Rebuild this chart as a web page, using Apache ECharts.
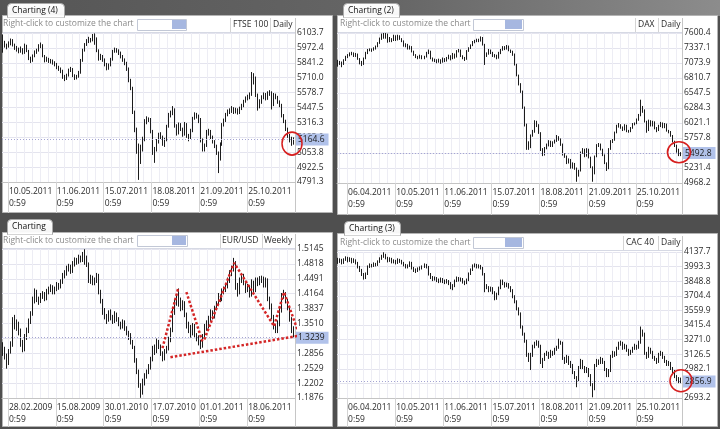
<!DOCTYPE html>
<html><head><meta charset="utf-8">
<script src="https://cdn.jsdelivr.net/npm/echarts@6.0.0/dist/echarts.min.js"></script>
<style>html,body{margin:0;padding:0;background:#4f4f4f;}#c{width:720px;height:429px;}</style>
</head><body><div id="c"></div><script>
// ---------- DATA: [open, close, low, high] per bar ----------
const ftseBars = [
[6060,6020,5930,6090],[6020,6000,5975,6035],[6000,5985,5960,6010],[5985,6010,5975,6030],[6010,6040,5995,6055],[6040,6000,5985,6050],[6000,5975,5955,6010],[5975,5960,5940,5990],[5960,5945,5925,5975],[5945,5960,5930,5985],
[5960,5930,5915,5970],[5930,5990,5920,6010],[5990,5950,5935,6000],[5950,5880,5865,5955],[5880,5860,5840,5895],[5860,5900,5850,5915],[5900,5935,5890,5950],[5935,5950,5920,5965],[5950,5990,5940,6005],[5990,6000,5970,6020],
[6000,5900,5890,6005],[5900,5860,5845,5910],[5860,5875,5850,5895],[5875,5855,5840,5885],[5855,5860,5835,5875],[5860,5845,5825,5870],[5845,5830,5810,5855],[5830,5800,5785,5840],[5800,5790,5770,5815],[5790,5770,5750,5800],
[5770,5720,5700,5780],[5720,5700,5680,5735],[5700,5730,5690,5745],[5730,5775,5720,5790],[5775,5790,5760,5805],[5790,5730,5715,5795],[5730,5710,5690,5740],[5710,5720,5695,5735],[5720,5750,5710,5770],[5750,5860,5745,5875],
[5860,5950,5850,5965],[5950,6000,5940,6015],[6000,6030,5990,6050],[6030,6050,6015,6070],[6050,6040,6020,6060],[6040,6080,6030,6095],[6080,6060,6000,6100],[6060,5950,5935,6065],[5950,5880,5860,5960],[5880,5900,5865,5920],
[5900,5870,5850,5910],[5870,5830,5810,5880],[5830,5790,5775,5840],[5790,5820,5780,5835],[5820,5870,5810,5885],[5870,5940,5860,5955],[5940,5960,5930,5975],[5960,5950,5930,5970],[5950,5930,5910,5960],[5930,5900,5880,5940],
[5900,5870,5850,5910],[5870,5840,5820,5880],[5840,5790,5770,5850],[5790,5690,5670,5800],[5690,5620,5600,5700],[5620,5400,5390,5630],[5400,5250,5230,5420],[5250,5060,5040,5270],[5060,5000,4810,5130],[5000,5100,4950,5120],
[5100,5170,5060,5190],[5170,5330,5150,5345],[5330,5350,5300,5370],[5350,5345,5320,5360],[5345,5240,5220,5355],[5240,5050,5030,5250],[5050,5080,4960,5100],[5080,5150,5060,5170],[5150,5210,5130,5225],[5210,5190,5170,5230],
[5190,5130,5110,5200],[5130,5160,5100,5180],[5160,5280,5150,5295],[5280,5380,5270,5400],[5380,5400,5360,5420],[5400,5430,5380,5460],[5430,5290,5270,5440],[5290,5220,5200,5300],[5220,5300,5210,5315],[5300,5260,5240,5310],
[5260,5210,5190,5270],[5210,5300,5200,5320],[5300,5200,5180,5310],[5200,5180,5150,5215],[5180,5240,5170,5260],[5240,5350,5230,5365],[5350,5390,5340,5405],[5390,5370,5350,5400],[5370,5350,5310,5385],[5350,5160,5140,5355],
[5160,5080,5060,5175],[5080,5110,5060,5130],[5110,5230,5100,5250],[5230,5240,5200,5260],[5240,5190,5170,5250],[5190,5150,5130,5200],[5150,5110,5090,5160],[5110,5050,5030,5120],[5050,4990,4870,5060],[4990,5120,4980,5140],
[5120,5290,5110,5310],[5290,5330,5280,5350],[5330,5380,5320,5400],[5380,5410,5370,5430],[5410,5420,5390,5440],[5420,5440,5400,5460],[5440,5410,5390,5450],[5410,5430,5395,5445],[5430,5400,5385,5440],[5400,5440,5390,5455],
[5440,5460,5425,5480],[5460,5500,5450,5515],[5500,5530,5490,5545],[5530,5540,5510,5560],[5540,5560,5520,5580],[5560,5730,5550,5760],[5730,5710,5650,5750],[5710,5560,5540,5720],[5560,5460,5420,5570],[5460,5500,5440,5520],
[5500,5540,5480,5555],[5540,5560,5520,5580],[5560,5530,5510,5575],[5530,5570,5515,5590],[5570,5580,5550,5600],[5580,5470,5430,5590],[5470,5560,5460,5575],[5560,5540,5520,5570],[5540,5500,5480,5550],[5500,5470,5450,5510],
[5470,5380,5360,5480],[5380,5330,5310,5390],[5330,5260,5240,5340],[5260,5200,5180,5270],[5200,5160,5140,5215],[5160,5170,5110,5190],[5170,5164.6,5120,5185]
];
const daxBars = [
[7100,7060,7010,7130],[7060,7090,7040,7110],[7090,7050,7000,7100],[7050,7120,7040,7140],[7120,7180,7110,7200],[7180,7210,7160,7230],[7210,7230,7190,7260],[7230,7250,7210,7270],[7250,7200,7180,7260],[7200,7230,7180,7250],
[7230,7150,7130,7240],[7150,7100,7050,7160],[7100,7050,7020,7110],[7050,7150,7040,7170],[7150,7250,7140,7270],[7250,7300,7230,7320],[7300,7310,7280,7330],[7310,7300,7270,7330],[7300,7330,7290,7350],[7330,7360,7310,7380],
[7360,7420,7350,7440],[7420,7500,7410,7520],[7500,7560,7480,7590],[7560,7520,7500,7600],[7520,7580,7500,7600],[7580,7450,7430,7590],[7450,7500,7440,7530],[7500,7470,7440,7510],[7470,7540,7460,7570],[7540,7480,7460,7560],
[7480,7550,7470,7570],[7550,7500,7480,7560],[7500,7460,7440,7510],[7460,7380,7360,7470],[7380,7400,7350,7420],[7400,7330,7310,7410],[7330,7360,7310,7380],[7360,7280,7260,7370],[7280,7220,7200,7290],[7220,7180,7160,7230],
[7180,7170,7140,7200],[7170,7200,7150,7220],[7200,7160,7140,7210],[7160,7180,7140,7200],[7180,7250,7170,7270],[7250,7280,7230,7310],[7280,7160,7140,7290],[7160,7120,7100,7170],[7120,7130,7090,7150],[7130,7100,7070,7140],
[7100,7130,7080,7150],[7130,7090,7060,7140],[7090,7150,7080,7170],[7150,7120,7090,7160],[7120,7160,7100,7180],[7160,7200,7140,7220],[7200,7150,7120,7210],[7150,7230,7140,7250],[7230,7180,7150,7240],[7180,7280,7170,7300],
[7280,7300,7260,7320],[7300,7200,7180,7310],[7200,7160,7140,7210],[7160,7140,7110,7180],[7140,7280,7130,7300],[7280,7330,7270,7350],[7330,7380,7320,7400],[7380,7440,7370,7460],[7440,7460,7420,7480],[7460,7480,7440,7500],
[7480,7470,7440,7500],[7470,7520,7450,7540],[7520,7400,7380,7530],[7400,7200,7040,7410],[7200,7240,7180,7260],[7240,7300,7220,7320],[7300,7260,7230,7310],[7260,7200,7180,7270],[7200,7210,7170,7230],[7210,7160,7140,7220],
[7160,7250,7150,7270],[7250,7300,7230,7320],[7300,7350,7290,7370],[7350,7330,7300,7370],[7330,7370,7310,7390],[7370,7300,7280,7380],[7300,7280,7250,7310],[7280,7230,7200,7290],[7230,7050,7030,7240],[7050,6860,6840,7060],
[6860,6700,6680,6870],[6700,6580,6550,6720],[6580,6300,6270,6590],[6300,6000,5960,6310],[6000,5660,5550,6010],[5660,5600,5550,5700],[5600,5800,5580,5820],[5800,5870,5780,5900],[5870,6040,5850,6070],[6040,5990,5950,6060],
[5990,5850,5830,6000],[5850,5560,5530,5860],[5560,5470,5440,5580],[5470,5580,5450,5600],[5580,5640,5560,5660],[5640,5690,5610,5720],[5690,5620,5600,5710],[5620,5680,5600,5700],[5680,5700,5660,5730],[5700,5780,5690,5810],
[5780,5740,5710,5790],[5740,5650,5620,5750],[5650,5470,5450,5660],[5470,5440,5410,5490],[5440,5330,5300,5450],[5330,5380,5310,5400],[5380,5240,5220,5390],[5240,5310,5220,5330],[5310,5230,5200,5320],[5230,5100,4990,5240],
[5100,5180,5080,5200],[5180,5500,5170,5520],[5500,5560,5480,5580],[5560,5440,5420,5570],[5440,5560,5430,5580],[5560,5420,5400,5570],[5420,5250,5230,5430],[5250,5130,4990,5260],[5130,5430,5120,5450],[5430,5620,5420,5650],
[5620,5650,5600,5670],[5650,5560,5540,5660],[5560,5460,5440,5570],[5460,5320,5300,5470],[5320,5220,5180,5330],[5220,5560,5210,5580],[5560,5690,5550,5720],[5690,5720,5670,5740],[5720,5850,5710,5870],[5850,5960,5840,5990],
[5960,5990,5940,6020],[5990,5950,5920,6000],[5950,5900,5880,5960],[5900,5980,5890,6000],[5980,5880,5860,5990],[5880,5870,5850,5900],[5870,5930,5860,5950],[5930,6000,5920,6020],[6000,6010,5980,6030],[6010,6080,6000,6100],
[6080,6150,6060,6180],[6150,6300,6140,6430],[6300,6250,6200,6320],[6250,6050,6030,6260],[6050,5890,5850,6060],[5890,6060,5880,6080],[6060,5980,5960,6070],[5980,6040,5960,6060],[6040,5930,5910,6050],[5930,5890,5860,5950],
[5890,5970,5880,5990],[5970,6020,5950,6040],[6020,5950,5930,6030],[5950,6000,5930,6020],[6000,5890,5870,6010],[5890,5870,5840,5900],[5870,5800,5780,5880],[5800,5700,5680,5810],[5700,5620,5600,5710],[5620,5560,5500,5640],
[5560,5470,5440,5570],[5470,5492.8,5440,5510]
];
const eurBars = [
[1.3050,1.2950,1.2800,1.3100],[1.2950,1.2800,1.2720,1.3000],[1.2800,1.2650,1.2520,1.2850],[1.2650,1.2900,1.2600,1.2950],[1.2900,1.3050,1.2850,1.3120],[1.3050,1.3550,1.3000,1.3650],[1.3550,1.3450,1.3380,1.3700],[1.3450,1.3500,1.3350,1.3600],[1.3500,1.3350,1.3250,1.3550],[1.3350,1.3100,1.3000,1.3400],
[1.3100,1.2950,1.2880,1.3150],[1.2950,1.3200,1.2900,1.3280],[1.3200,1.3350,1.3150,1.3420],[1.3350,1.3550,1.3300,1.3620],[1.3550,1.3700,1.3500,1.3780],[1.3700,1.4000,1.3680,1.4100],[1.4000,1.4200,1.3950,1.4280],[1.4200,1.4050,1.3980,1.4250],[1.4050,1.4000,1.3920,1.4100],[1.4000,1.4100,1.3960,1.4180],
[1.4100,1.4150,1.4050,1.4220],[1.4150,1.4050,1.4000,1.4200],[1.4050,1.4200,1.4020,1.4270],[1.4200,1.4250,1.4150,1.4320],[1.4250,1.4300,1.4200,1.4370],[1.4300,1.4200,1.4150,1.4350],[1.4200,1.4250,1.4150,1.4320],[1.4250,1.4350,1.4220,1.4420],[1.4350,1.4300,1.4250,1.4400],[1.4300,1.4400,1.4280,1.4480],
[1.4400,1.4550,1.4380,1.4620],[1.4550,1.4600,1.4500,1.4680],[1.4600,1.4700,1.4560,1.4780],[1.4700,1.4750,1.4650,1.4820],[1.4750,1.4650,1.4600,1.4800],[1.4650,1.4800,1.4620,1.4880],[1.4800,1.4900,1.4760,1.4960],[1.4900,1.4850,1.4800,1.4950],[1.4850,1.4950,1.4820,1.5020],[1.4950,1.4900,1.4850,1.5000],
[1.4900,1.5000,1.4860,1.5080],[1.5000,1.4950,1.4800,1.5140],[1.4950,1.4800,1.4750,1.5000],[1.4800,1.4450,1.4400,1.4850],[1.4450,1.4500,1.4380,1.4580],[1.4500,1.4400,1.4350,1.4560],[1.4400,1.4450,1.4350,1.4520],[1.4450,1.4550,1.4400,1.4620],[1.4550,1.4200,1.4150,1.4600],[1.4200,1.4000,1.3950,1.4250],
[1.4000,1.3800,1.3700,1.4050],[1.3800,1.3650,1.3600,1.3850],[1.3650,1.3600,1.3500,1.3720],[1.3600,1.3750,1.3550,1.3800],[1.3750,1.3650,1.3580,1.3820],[1.3650,1.3550,1.3500,1.3700],[1.3550,1.3700,1.3520,1.3780],[1.3700,1.3600,1.3550,1.3750],[1.3600,1.3500,1.3450,1.3650],[1.3500,1.3450,1.3380,1.3550],
[1.3450,1.3550,1.3400,1.3600],[1.3550,1.3400,1.3350,1.3580],[1.3400,1.3300,1.3250,1.3450],[1.3300,1.3250,1.3150,1.3350],[1.3250,1.3100,1.3050,1.3300],[1.3100,1.3000,1.2950,1.3150],[1.3000,1.2700,1.2650,1.3020],[1.2700,1.2450,1.2400,1.2750],[1.2450,1.2150,1.2100,1.2500],[1.2150,1.2000,1.1880,1.2200],
[1.2000,1.2250,1.1950,1.2300],[1.2250,1.2350,1.2150,1.2420],[1.2350,1.2450,1.2300,1.2500],[1.2450,1.2550,1.2400,1.2620],[1.2550,1.2700,1.2500,1.2780],[1.2700,1.2950,1.2680,1.3020],[1.2950,1.2900,1.2820,1.3050],[1.2900,1.3100,1.2860,1.3180],[1.3100,1.3000,1.2950,1.3150],[1.3000,1.2850,1.2800,1.3050],
[1.2850,1.2750,1.2680,1.2900],[1.2750,1.2900,1.2700,1.2950],[1.2900,1.2950,1.2850,1.3020],[1.2950,1.3150,1.2920,1.3220],[1.3150,1.3350,1.3100,1.3420],[1.3350,1.3750,1.3320,1.3850],[1.3750,1.3950,1.3700,1.4050],[1.3950,1.4050,1.3900,1.4150],[1.4050,1.4000,1.3880,1.4280],[1.4000,1.3850,1.3780,1.4080],
[1.3850,1.3950,1.3800,1.4020],[1.3950,1.3700,1.3650,1.4000],[1.3700,1.3450,1.3400,1.3750],[1.3450,1.3400,1.3300,1.3550],[1.3400,1.3300,1.3200,1.3480],[1.3300,1.3450,1.3250,1.3520],[1.3450,1.3250,1.3200,1.3500],[1.3250,1.3200,1.3120,1.3300],[1.3200,1.3100,1.3030,1.3250],[1.3100,1.3000,1.2950,1.3150],
[1.3000,1.3200,1.2980,1.3280],[1.3200,1.3400,1.3180,1.3500],[1.3400,1.3450,1.3350,1.3580],[1.3450,1.3600,1.3400,1.3680],[1.3600,1.3750,1.3550,1.3820],[1.3750,1.3650,1.3600,1.3800],[1.3650,1.3850,1.3620,1.3900],[1.3850,1.3950,1.3800,1.4000],[1.3950,1.4100,1.3920,1.4180],[1.4100,1.4050,1.3980,1.4150],
[1.4050,1.4200,1.4000,1.4280],[1.4200,1.4250,1.4150,1.4320],[1.4250,1.4300,1.4200,1.4380],[1.4300,1.4450,1.4280,1.4520],[1.4450,1.4600,1.4400,1.4680],[1.4600,1.4700,1.4550,1.4780],[1.4700,1.4850,1.4650,1.4950],[1.4850,1.4300,1.4250,1.4880],[1.4300,1.4200,1.4100,1.4400],[1.4200,1.4450,1.4150,1.4520],
[1.4450,1.4550,1.4400,1.4620],[1.4550,1.4400,1.4350,1.4600],[1.4400,1.4250,1.4180,1.4450],[1.4250,1.4300,1.4200,1.4380],[1.4300,1.4150,1.4080,1.4350],[1.4150,1.4400,1.4100,1.4480],[1.4400,1.4250,1.4200,1.4450],[1.4250,1.4450,1.4200,1.4520],[1.4450,1.4400,1.4330,1.4520],[1.4400,1.4450,1.4350,1.4550],
[1.4450,1.4500,1.4400,1.4560],[1.4500,1.4350,1.4300,1.4540],[1.4350,1.4450,1.4300,1.4520],[1.4450,1.4050,1.4000,1.4500],[1.4050,1.3900,1.3820,1.4100],[1.3900,1.3650,1.3600,1.3950],[1.3650,1.3450,1.3380,1.3700],[1.3450,1.3350,1.3300,1.3500],[1.3350,1.3500,1.3300,1.3580],[1.3500,1.3800,1.3450,1.3850],
[1.3800,1.4100,1.3750,1.4180],[1.4100,1.4150,1.4050,1.4250],[1.4150,1.4000,1.3950,1.4200],[1.4000,1.3850,1.3800,1.4050],[1.3850,1.3600,1.3550,1.3900],[1.3600,1.3400,1.3300,1.3650],[1.3400,1.3239,1.3200,1.3450]
];
const cacBars = [
[4070,4040,4020,4080],[4040,4060,4030,4075],[4060,4030,4015,4070],[4030,4060,4020,4075],[4060,4080,4050,4095],[4080,4050,4035,4090],[4050,4070,4040,4085],[4070,4040,4025,4080],[4040,4060,4030,4075],[4060,4030,4015,4065],
[4030,3990,3975,4040],[3990,3960,3940,4000],[3960,3920,3900,3970],[3920,3880,3865,3930],[3880,3920,3870,3935],[3920,3990,3910,4005],[3990,4010,3980,4025],[4010,4000,3985,4020],[4000,4020,3990,4035],[4020,4010,3995,4030],
[4010,4040,4000,4055],[4040,4070,4030,4085],[4070,4090,4060,4110],[4090,4110,4080,4135],[4110,4080,4065,4120],[4080,4050,4035,4090],[4050,4070,4040,4085],[4070,4040,4025,4080],[4040,4050,4025,4065],[4050,4030,4015,4060],
[4030,4060,4020,4075],[4060,4050,4030,4070],[4050,4030,4015,4060],[4030,4010,3995,4040],[4010,3990,3975,4020],[3990,4000,3975,4015],[4000,4030,3990,4045],[4030,3980,3965,4040],[3980,3960,3940,3990],[3960,3950,3930,3975],
[3950,3970,3940,3985],[3970,3980,3955,3995],[3980,3990,3965,4005],[3990,4010,3980,4025],[4010,3990,3975,4020],[3990,3920,3905,4000],[3920,3890,3870,3930],[3890,3870,3850,3900],[3870,3880,3855,3895],[3880,3860,3840,3890],
[3860,3850,3830,3875],[3850,3870,3835,3885],[3870,3850,3830,3880],[3850,3840,3820,3865],[3840,3850,3825,3870],[3850,3830,3810,3860],[3830,3790,3770,3840],[3790,3800,3760,3820],[3800,3850,3790,3865],[3850,3880,3840,3895],
[3880,3860,3845,3890],[3860,3870,3845,3885],[3870,3840,3825,3880],[3840,3830,3810,3855],[3830,3860,3820,3875],[3860,3920,3850,3935],[3920,3960,3910,3975],[3960,4000,3950,4015],[4000,4010,3985,4025],[4010,3990,3975,4020],
[3990,4000,3975,4015],[4000,3980,3965,4010],[3980,3920,3905,3990],[3920,3800,3740,3930],[3800,3790,3770,3820],[3790,3760,3740,3800],[3760,3780,3745,3795],[3780,3740,3720,3790],[3740,3680,3660,3750],[3680,3720,3665,3735],
[3720,3780,3710,3795],[3780,3850,3770,3865],[3850,3830,3810,3865],[3830,3800,3785,3840],[3800,3820,3790,3835],[3820,3790,3775,3830],[3790,3760,3740,3800],[3760,3700,3680,3770],[3700,3650,3630,3710],[3650,3580,3560,3660],
[3580,3530,3510,3590],[3530,3400,3380,3540],[3400,3330,3310,3410],[3330,3260,3240,3340],[3260,3130,3100,3270],[3130,3080,3050,3140],[3080,3120,2970,3140],[3120,3200,3100,3220],[3200,3230,3185,3250],[3230,3250,3210,3265],
[3250,3210,3190,3260],[3210,3050,3030,3220],[3050,3070,2990,3090],[3070,3120,3060,3140],[3120,3140,3110,3160],[3140,3100,3080,3150],[3100,3150,3090,3170],[3150,3130,3110,3160],[3130,3170,3120,3190],[3170,3190,3160,3210],
[3190,3250,3180,3280],[3250,3240,3220,3260],[3240,3090,3070,3250],[3090,3050,3030,3100],[3050,3100,3040,3120],[3100,3040,3020,3110],[3040,3020,2990,3060],[3020,2950,2930,3030],[2950,2900,2880,2960],[2900,2870,2800,2910],
[2870,2990,2860,3010],[2990,3060,2980,3080],[3060,3000,2980,3070],[3000,2960,2940,3010],[2960,2980,2940,3000],[2980,2920,2900,2990],[2920,2830,2810,2930],[2830,2780,2700,2840],[2780,3010,2770,3030],[3010,3060,3000,3080],
[3060,3040,3020,3075],[3040,3080,3030,3100],[3080,3050,3030,3090],[3050,2980,2960,3060],[2980,2920,2900,2990],[2920,2960,2900,2980],[2960,3100,2950,3120],[3100,3140,3090,3160],[3140,3120,3100,3155],[3120,3180,3110,3200],
[3180,3230,3170,3250],[3230,3240,3210,3260],[3240,3190,3170,3250],[3190,3210,3175,3230],[3210,3170,3150,3220],[3170,3130,3110,3180],[3130,3150,3120,3170],[3150,3180,3140,3200],[3180,3210,3170,3230],[3210,3190,3170,3220],
[3190,3240,3180,3260],[3240,3360,3230,3400],[3360,3330,3300,3370],[3330,3140,3120,3340],[3140,3100,3080,3150],[3100,3180,3090,3200],[3180,3150,3130,3190],[3150,3100,3080,3160],[3100,3080,3060,3110],[3080,3050,3030,3090],
[3050,3120,3040,3140],[3120,3140,3110,3160],[3140,3100,3080,3150],[3100,3060,3040,3110],[3060,3030,3010,3070],[3030,3040,3010,3060],[3040,2990,2970,3050],[2990,2960,2940,3000],[2960,2910,2890,2970],[2910,2870,2850,2920],
[2870,2880,2840,2900],[2880,2856.9,2840,2895]
];

// x-axis date labels and the bar each one sits on
const ftseDates = ['10.05.2011','11.06.2011','15.07.2011','18.08.2011','21.09.2011','25.10.2011'];
const ftseDateBars = [3,27,51,75,99,123];
const daxDates = ['06.04.2011','10.05.2011','11.06.2011','15.07.2011','18.08.2011','21.09.2011','25.10.2011'];
const daxDateBars = [5,29,53,77,101,125,149];
const eurDates = ['28.02.2009','15.08.2009','30.01.2010','17.07.2010','01.01.2011','18.06.2011'];
const eurDateBars = [3,27,51,75,99,123];
const cacDates = ['06.04.2011','10.05.2011','11.06.2011','15.07.2011','18.08.2011','21.09.2011','25.10.2011'];
const cacDateBars = [5,29,53,77,101,125,149];
const timeOfDay = '0:59';

// y-axis tick labels
const ftseTicks = [4791.3,4922.5,5053.8,5185.0,5316.3,5447.5,5578.7,5710.0,5841.2,5972.4,6103.7];
const daxTicks = [4968.2,5231.4,5494.6,5757.8,6021.1,6284.3,6547.5,6810.7,7073.9,7337.1,7600.4];
const eurTicks = [1.1876,1.2202,1.2529,1.2856,1.3183,1.3510,1.3837,1.4164,1.4491,1.4818,1.5145];
const cacTicks = [2693.2,2837.6,2982.1,3126.5,3271.0,3415.4,3559.9,3704.4,3848.8,3993.3,4137.7];

// texts
const tabTitles = ['Charting (4)','Charting (2)','Charting','Charting (3)'];
const symbols = ['FTSE 100','DAX','EUR/USD','CAC 40'];
const periods = ['Daily','Daily','Weekly','Daily'];
const hintText = 'Right-click to customize the chart';

// hand-drawn annotations (bar index, price)
const ftseMarker = [145, 5130];
const daxMarker = [170, 5508];
const cacMarker = [171, 2864];
const eurPatternA = [[80,1.297],[88,1.430]];
const eurPatternB = [[92,1.420],[100,1.312]];
const eurPatternC = [[101,1.316],[116,1.484],[136,1.345],[141,1.420],[148,1.334]];
const eurNeckline = [[84,1.277],[162,1.334]];

// ---------- LAYOUT ----------
const FONT = 'Open Sans';
const FS = 8.5;
const layout = [
 {grid:{left:2,top:33,width:293,height:149}, tickLen:31, box:[2,15,331,198], tab:[7,3,57,13], hint:[3,24], input:[137,19,49,11], blue:[172,20,14,9], seps:[230.5,270.5], sepY:[18,32], symX:233, perX:273, tY:24.5, toolY:32.5, axisX:295.5, axisY:[18,213]},
 {grid:{left:337,top:33,width:345,height:150}, tickLen:32, box:[337,15,381,200], tab:[343,3,56,13], hint:[340,24], input:[473,19,50,11], blue:[505,20,17,9], seps:[635.5,658.5], sepY:[18,32], symX:638, perX:661, tY:24.5, toolY:32.5, axisX:682.5, axisY:[18,215]},
 {grid:{left:2,top:249,width:293,height:149}, tickLen:29, box:[2,232,331,195], tab:[7,219,45,14], hint:[3,241], input:[137,235,50,11], blue:[172,236,14,9], seps:[220.5,262.5], sepY:[234,248], symX:222, perX:264, tY:241, toolY:248.5, axisX:295.5, axisY:[234,427]},
 {grid:{left:337,top:252,width:345,height:146}, tickLen:29, box:[337,233,381,194], tab:[344,221,56,13], hint:[340,243], input:[473,237,50,11], blue:[505,238,17,9], seps:[623.5,658.5], sepY:[236,250], symX:626, perX:661, tY:243, toolY:250.5, axisX:682.5, axisY:[236,427]}
];

const panels = [
 {bars:ftseBars, dates:ftseDates, dateBars:ftseDateBars, ticks:ftseTicks, dec:1, marker:ftseMarker, markerSize:[20,23]},
 {bars:daxBars, dates:daxDates, dateBars:daxDateBars, ticks:daxTicks, dec:1, marker:daxMarker, markerSize:[23,21]},
 {bars:eurBars, dates:eurDates, dateBars:eurDateBars, ticks:eurTicks, dec:4, marker:null},
 {bars:cacBars, dates:cacDates, dateBars:cacDateBars, ticks:cacTicks, dec:1, marker:cacMarker, markerSize:[22,22]}
];

const grids = [], xAxes = [], yAxes = [], series = [], els = [];
const txt = (x, y, text, fill, z) => ({type:'text', z: z || 10, style:{x, y, text, fill, font: FS + 'px "' + FONT + '"', align:'left', verticalAlign:'middle', textAlign:'left', textVerticalAlign:'middle'}});
const ln = (x1, y1, x2, y2, stroke, z) => ({type:'line', z: z || 1, shape:{x1, y1, x2, y2}, style:{stroke, lineWidth:1}});

// window frame
els.push({type:'rect', z:-20, shape:{x:0,y:0,width:720,height:16}, style:{fill:{type:'linear',x:0,y:0,x2:1,y2:0,colorStops:[{offset:0,color:'#555555'},{offset:0.55,color:'#666666'},{offset:1,color:'#8c8c8c'}]}}});

panels.forEach((p, k) => {
  const L = layout[k];
  const labelAt = {};
  p.dateBars.forEach((b, j) => { labelAt[b] = p.dates[j]; });
  const last = p.bars[p.bars.length - 1][1];

  grids.push(Object.assign({containLabel:false}, L.grid));
  xAxes.push({
    type:'category', gridIndex:k, data:p.bars.map((d, i) => String(i)), boundaryGap:true,
    axisLine:{show:true, lineStyle:{color:'#c4c4c4'}},
    axisTick:{show:true, interval:(i) => labelAt[i] !== undefined, length:L.tickLen, lineStyle:{color:'#d3d3d3'}},
    axisLabel:{show:true, interval:(i) => labelAt[i] !== undefined, formatter:(v, i) => labelAt[i] + '\n' + timeOfDay,
      align:'left', margin:4, lineHeight:11.6, fontFamily:FONT, fontSize:FS, color:'#2a2a2a'},
    splitLine:{show:true, interval:(i) => (i - p.dateBars[0]) % 4 === 0, lineStyle:{color:'#ededf4', width:1}}
  });
  yAxes.push({
    type:'value', gridIndex:k, position:'right', min:p.ticks[0], max:p.ticks[p.ticks.length - 1],
    axisLine:{show:false}, axisTick:{show:false, customValues:p.ticks},
    axisLabel:{show:true, customValues:p.ticks, formatter:(v) => Number(v).toFixed(p.dec), margin:2, fontFamily:FONT, fontSize:FS, color:'#2a2a2a'},
    splitLine:{show:true, lineStyle:{color:'#e4e4ee', width:1}}
  });
  series.push({
    type:'candlestick', name:symbols[k], xAxisIndex:k, yAxisIndex:k, data:p.bars, barWidth:1.1, silent:true,
    itemStyle:{color:'#1c1c1c', color0:'#1c1c1c', borderColor:'#1c1c1c', borderColor0:'#1c1c1c', borderWidth:1},
    markLine:{silent:true, symbol:['none','none'], animation:false, data:[{yAxis:last}],
      lineStyle:{color:'#a4a4d2', type:[1,2], width:1},
      label:{show:true, position:'end', distance:1, formatter:() => last.toFixed(p.dec), backgroundColor:'#b1c2ea',
        color:'#1a1a1a', fontFamily:FONT, fontSize:FS, padding:[2,4,1,2]}}
  });
  if (p.marker) {
    series.push({type:'scatter', xAxisIndex:k, yAxisIndex:k, data:[p.marker], symbol:'circle', symbolSize:p.markerSize, silent:true, z:6,
      itemStyle:{color:'rgba(0,0,0,0)', borderColor:'#d61f1f', borderWidth:1.6, opacity:1}});
  }

  // panel chrome
  const b = L.box, t = L.tab;
  els.push({type:'rect', z:-10, shape:{x:b[0]+0.5, y:b[1]+0.5, width:b[2]-1, height:b[3]-1}, style:{fill:'#ffffff', stroke:'#b4b4b4', lineWidth:1}});
  els.push({type:'rect', z:-9, shape:{x:t[0]+0.5, y:t[1]+0.5, width:t[2], height:t[3]+1, r:[4,4,0,0]},
    style:{fill:{type:'linear',x:0,y:0,x2:0,y2:1,colorStops:[{offset:0,color:'#ffffff'},{offset:1,color:'#f4f4f4'}]}, stroke:'#a9a9a9', lineWidth:1}});
  els.push({type:'rect', z:-8, shape:{x:t[0]+1, y:b[1]+0.5, width:t[2]-1, height:2}, style:{fill:'#ffffff'}});
  els.push(txt(t[0]+5, t[1]+t[3]/2+1, tabTitles[k], '#111111'));
  els.push(txt(L.hint[0], L.hint[1], hintText, '#8a8a8a'));
  els.push({type:'rect', z:2, shape:{x:L.input[0]+0.5, y:L.input[1]+0.5, width:L.input[2], height:L.input[3]}, style:{fill:'#ffffff', stroke:'#c2c8d6', lineWidth:1}});
  els.push({type:'rect', z:3, shape:{x:L.blue[0], y:L.blue[1], width:L.blue[2], height:L.blue[3]}, style:{fill:'#a6b7e0'}});
  L.seps.forEach(sx => els.push(ln(sx, L.sepY[0], sx, L.sepY[1], '#d4d4d4')));
  els.push(txt(L.symX, L.tY, symbols[k], '#2a2a2a'));
  els.push(txt(L.perX, L.tY, periods[k], '#2a2a2a'));
  els.push(ln(b[0]+1, L.toolY, L.axisX, L.toolY, '#d6d9e4'));
  els.push(ln(L.axisX, L.axisY[0], L.axisX, L.axisY[1], '#c6c6c6'));
});

// EUR/USD hand-drawn pattern lines
[eurPatternA, eurPatternB, eurPatternC, eurNeckline].forEach(seg => {
  series.push({type:'line', xAxisIndex:2, yAxisIndex:2, data:seg, symbol:'none', clip:false, silent:true, z:7,
    lineStyle:{color:'#d42626', width:2.5, type:[2.5,2]}});
});

const chart = echarts.init(document.getElementById('c'), null, {renderer:'canvas'});
chart.setOption({
  animation:false,
  backgroundColor:'#4f4f4f',
  textStyle:{fontFamily:FONT},
  grid:grids, xAxis:xAxes, yAxis:yAxes, series:series,
  graphic:{elements:els}
});
</script></body></html>
